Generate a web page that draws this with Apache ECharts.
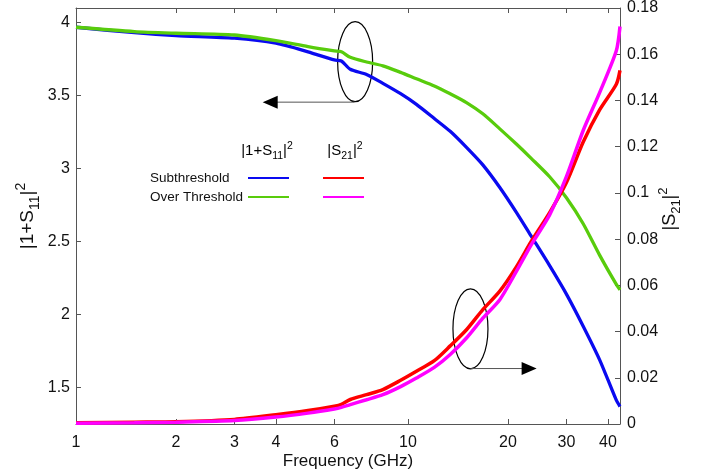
<!DOCTYPE html>
<html>
<head>
<meta charset="utf-8">
<style>
  html, body { margin: 0; padding: 0; background: #fff; }
  #chart { width: 710px; height: 476px; }
</style>
<script src="https://cdn.jsdelivr.net/npm/echarts@6.0.0/dist/echarts.min.js"></script>
</head>
<body>
<div id="chart"></div>
<script>
// frequency points (GHz)
const freq = [1, 1.5, 2, 3, 4, 5, 6, 6.3, 6.7, 7.5, 8.4, 9.5, 10.6, 12, 13.4, 15, 16.8, 18.9, 21.2, 23.5, 26.7, 30, 33.7, 37.8, 42.4, 43.5];

// |1+S11|^2, left axis
const s11Sub  = [3.968, 3.931, 3.911, 3.893, 3.859, 3.800, 3.744, 3.737, 3.680, 3.645, 3.584, 3.513, 3.440, 3.343, 3.255, 3.145, 3.025, 2.870, 2.700, 2.537, 2.335, 2.140, 1.920, 1.688, 1.413, 1.370];
const s11Over = [3.968, 3.938, 3.927, 3.915, 3.876, 3.835, 3.806, 3.800, 3.762, 3.730, 3.704, 3.659, 3.615, 3.566, 3.512, 3.452, 3.375, 3.272, 3.168, 3.070, 2.944, 2.800, 2.622, 2.405, 2.206, 2.169];

// |S21|^2, right axis
const s21Sub  = [0.0005, 0.0008, 0.0010, 0.0020, 0.0040, 0.0058, 0.0077, 0.0085, 0.0106, 0.0127, 0.0149, 0.0189, 0.0228, 0.0274, 0.0338, 0.0408, 0.0495, 0.0575, 0.0680, 0.0790, 0.0915, 0.1045, 0.1220, 0.1360, 0.1470, 0.1530];
const s21Over = [0.0003, 0.0005, 0.0008, 0.0015, 0.0030, 0.0047, 0.0065, 0.0072, 0.0084, 0.0105, 0.0127, 0.0162, 0.0199, 0.0245, 0.0301, 0.0372, 0.0458, 0.0538, 0.0660, 0.0775, 0.0905, 0.1070, 0.1270, 0.1435, 0.1615, 0.1720];

const freqTicks = [1, 2, 3, 4, 6, 10, 20, 30, 40];
const leftTicks = [1.5, 2, 2.5, 3, 3.5, 4];

// annotations: [freq, value, yAxisIndex]
const ellipseCenters = [[6.93, 3.732, 0], [15.42, 0.0412, 1]];
const arrowFrom = [[6.9, 3.455, 0], [15.5, 0.024, 1]];
const arrowTo = [[3.65, 3.455, 0], [24.4, 0.024, 1]];

const FONT = 'Liberation Sans';
const AXIS_COLOR = '#555';
const TEXT_COLOR = '#111';

const pairs = (ys) => freq.map((f, i) => [f, ys[i]]);

const chart = echarts.init(document.getElementById('chart'));

const xAxisBase = {
    type: 'log',
    logBase: 10,
    min: 1,
    max: 43.5,
    splitLine: { show: false },
    axisLine: { lineStyle: { color: AXIS_COLOR, width: 1 } },
    axisTick: { inside: true, length: 5, lineStyle: { color: AXIS_COLOR }, customValues: freqTicks },
    minorTick: { show: false }
};

const subSupRich = (main, small, lh) => ({
    m: { fontFamily: FONT, fontSize: main, color: TEXT_COLOR, lineHeight: lh },
    sb: { fontFamily: FONT, fontSize: small, color: TEXT_COLOR, lineHeight: small, verticalAlign: 'bottom' },
    sp: { fontFamily: FONT, fontSize: small, color: TEXT_COLOR, lineHeight: small, verticalAlign: 'top' }
});

const lineSeries = (name, yIndex, ys, color, width) => ({
    name: name,
    type: 'line',
    xAxisIndex: 0,
    yAxisIndex: yIndex,
    data: pairs(ys),
    symbol: 'none',
    smooth: 0.25,
    color: color,
    lineStyle: { width: width }
});

const legendBase = {
    orient: 'vertical',
    align: 'right',
    icon: 'rect',
    top: 166,
    itemWidth: 41,
    itemHeight: 2.2,
    itemGap: 5,
    selectedMode: false
};

const option = {
    animation: false,
    backgroundColor: '#fff',
    grid: { left: 76, right: 90, top: 7, bottom: 52 },
    xAxis: [
        Object.assign({}, xAxisBase, {
            position: 'bottom',
            name: 'Frequency (GHz)',
            nameLocation: 'middle',
            nameGap: 29,
            nameMoveOverlap: false,
            nameTextStyle: { fontFamily: FONT, fontSize: 17, color: TEXT_COLOR },
            axisLabel: {
                customValues: freqTicks,
                margin: 11,
                fontFamily: FONT,
                fontSize: 16,
                color: TEXT_COLOR,
                formatter: (v) => String(v)
            }
        }),
        Object.assign({}, xAxisBase, {
            position: 'top',
            axisLabel: { show: false }
        })
    ],
    yAxis: [
        {
            type: 'value',
            position: 'left',
            min: 1.25,
            max: 4.1,
            splitLine: { show: false },
            axisLine: { show: true, lineStyle: { color: AXIS_COLOR } },
            axisTick: { show: true, inside: true, length: 5, lineStyle: { color: AXIS_COLOR }, customValues: leftTicks },
            axisLabel: {
                customValues: leftTicks,
                margin: 6,
                fontFamily: FONT,
                fontSize: 16,
                color: TEXT_COLOR,
                formatter: (v) => String(+v.toFixed(2))
            },
            name: '{m||1+S}{sb|11}{m||}{sp|2}',
            nameLocation: 'middle',
            nameGap: 34,
            nameMoveOverlap: false,
            nameTextStyle: { rich: subSupRich(19, 14, 28) }
        },
        {
            type: 'value',
            position: 'right',
            min: 0,
            max: 0.18,
            interval: 0.02,
            splitLine: { show: false },
            axisLine: { show: true, lineStyle: { color: AXIS_COLOR } },
            axisTick: { show: true, inside: true, length: 5, lineStyle: { color: AXIS_COLOR } },
            axisLabel: {
                margin: 7,
                fontFamily: FONT,
                fontSize: 16,
                color: TEXT_COLOR,
                formatter: (v) => String(+v.toFixed(2))
            },
            name: '{m||S}{sb|21}{m||}{sp|2}',
            nameLocation: 'middle',
            nameGap: 37,
            nameMoveOverlap: false,
            nameTextStyle: { rich: subSupRich(18, 13, 26), padding: [0, 0, 0, 14] }
        }
    ],
    legend: [
        Object.assign({}, legendBase, {
            data: ['Subthreshold', 'Over Threshold'],
            left: 145,
            formatter: '{t|{name}}',
            textStyle: {
                fontFamily: FONT,
                fontSize: 13.5,
                color: TEXT_COLOR,
                rich: { t: { width: 93, align: 'left', fontFamily: FONT, fontSize: 13.5, color: TEXT_COLOR, lineHeight: 16 } }
            }
        }),
        Object.assign({}, legendBase, {
            data: ['Subthreshold S21', 'Over Threshold S21'],
            left: 312,
            formatter: '{t| }',
            textStyle: {
                fontFamily: FONT,
                fontSize: 13.5,
                color: TEXT_COLOR,
                rich: { t: { width: 1, align: 'left', fontFamily: FONT, fontSize: 13.5, color: TEXT_COLOR, lineHeight: 16 } }
            }
        })
    ],
    series: [
        lineSeries('Subthreshold', 0, s11Sub, '#0a0af0', 3.3),
        lineSeries('Over Threshold', 0, s11Over, '#58cc0c', 3.3),
        lineSeries('Subthreshold S21', 1, s21Sub, '#ff0000', 3.5),
        lineSeries('Over Threshold S21', 1, s21Over, '#ff00ff', 3.5)
    ]
};

chart.setOption(option);

// annotations placed through the axes after layout
const toPx = (p) => chart.convertToPixel({ xAxisIndex: 0, yAxisIndex: p[2] }, [p[0], p[1]]);
const graphics = [];

ellipseCenters.forEach((c) => {
    const [cx, cy] = toPx(c);
    graphics.push({
        type: 'ellipse',
        shape: { cx: cx, cy: cy, rx: 17.5, ry: 40 },
        style: { fill: 'none', stroke: '#000', lineWidth: 1.2 },
        silent: true
    });
});

arrowFrom.forEach((a, i) => {
    const [x1, y1] = toPx(a);
    const [x2, y2] = toPx(arrowTo[i]);
    const dir = x2 > x1 ? 1 : -1;
    graphics.push({
        type: 'line',
        shape: { x1: x1, y1: y1, x2: x2 - dir * 12, y2: y2 },
        style: { stroke: '#555', lineWidth: 1 },
        silent: true
    });
    graphics.push({
        type: 'polygon',
        shape: { points: [[x2, y2], [x2 - dir * 15, y2 - 6.5], [x2 - dir * 15, y2 + 6.5]] },
        style: { fill: '#000' },
        silent: true
    });
});

// legend column headers
graphics.push({
    type: 'text',
    x: 267,
    y: 151,
    style: {
        text: '{m||1+S}{sb|11}{m||}{sp|2}',
        align: 'center',
        verticalAlign: 'middle',
        rich: subSupRich(15, 10.5, 21)
    },
    silent: true
});
graphics.push({
    type: 'text',
    x: 345,
    y: 151,
    style: {
        text: '{m||S}{sb|21}{m||}{sp|2}',
        align: 'center',
        verticalAlign: 'middle',
        rich: subSupRich(15, 10.5, 21)
    },
    silent: true
});

chart.setOption({ graphic: graphics });

window.addEventListener('resize', () => chart.resize());
</script>
</body>
</html>
